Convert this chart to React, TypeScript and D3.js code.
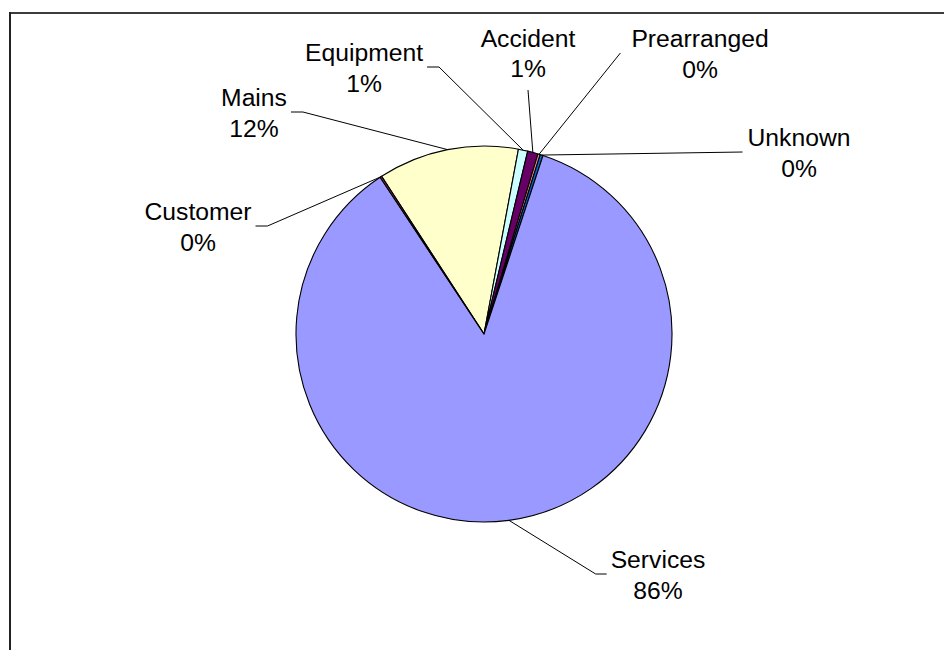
import React, { useEffect, useRef } from "react";
import * as d3 from "d3";

// ---- data (clockwise from the first slice) ----
const categories = ["Mains", "Equipment", "Accident", "Prearranged", "Unknown", "Services", "Customer"];
const values = [12.1, 0.8, 0.9, 0.2, 0.25, 85.6, 0.15];
const colors = ["#FFFFCC", "#CCFFFF", "#660066", "#FF8080", "#0066CC", "#9999FF", "#993366"];

// ---- label layout (label centre x, first-line baseline, how the leader attaches) ----
const labelLayout = [
  { x: 254, y: 106, side: "right" },
  { x: 364, y: 61, side: "right" },
  { x: 528, y: 46.5, side: "bottom" },
  { x: 700, y: 47, side: "leftFar" },
  { x: 799, y: 146, side: "leftDirect" },
  { x: 658, y: 568, side: "left" },
  { x: 198, y: 220, side: "right" },
];

const W = 944;
const H = 650;
const CX = 484;
const CY = 334;
const R = 188;
const START_DEG = -33;
const FONT = "'Liberation Sans', Arial, Helvetica, sans-serif";
const FONT_SIZE = 24.7;
const LINE_GAP = 30.5;

export default function App() {
  const ref = useRef<SVGSVGElement | null>(null);

  useEffect(() => {
    const svg = d3.select(ref.current);
    svg.selectAll("*").remove();

    // frame
    svg.append("line").attr("x1", 9).attr("x2", W).attr("y1", 13).attr("y2", 13)
      .attr("stroke", "#3c3c3c").attr("stroke-width", 2);
    svg.append("line").attr("x1", 10).attr("x2", 10).attr("y1", 12).attr("y2", H)
      .attr("stroke", "#222").attr("stroke-width", 2);

    const total = d3.sum(values);
    const start = (START_DEG * Math.PI) / 180;
    const pie = d3.pie<number>().sort(null).value((d) => d)
      .startAngle(start).endAngle(start + 2 * Math.PI);
    const arcs = pie(values);
    const arc = d3.arc<d3.PieArcDatum<number>>().innerRadius(0).outerRadius(R);

    const g = svg.append("g").attr("transform", `translate(${CX},${CY})`);
    g.selectAll("path").data(arcs).enter().append("path")
      .attr("d", arc as any)
      .attr("fill", (_, i) => colors[i])
      .attr("stroke", "#000")
      .attr("stroke-width", 1.1)
      .attr("stroke-linejoin", "round");

    // labels
    const lg = svg.append("g").attr("font-family", FONT).attr("font-size", FONT_SIZE).attr("fill", "#000");
    arcs.forEach((a, i) => {
      const lay = labelLayout[i];
      const pct = Math.round((values[i] / total) * 100) + "%";
      const t1 = lg.append("text").attr("x", lay.x).attr("y", lay.y).attr("text-anchor", "middle").text(categories[i]);
      lg.append("text").attr("x", lay.x).attr("y", lay.y + LINE_GAP).attr("text-anchor", "middle").text(pct);
      const w = (t1.node() as SVGTextElement).getComputedTextLength();

      const mid = (a.startAngle + a.endAngle) / 2;
      const rim: [number, number] = [CX + R * Math.sin(mid), CY - R * Math.cos(mid)];
      const ay = lay.y + 6;
      let pts: [number, number][] = [];
      if (lay.side === "right") {
        const ex = lay.x + w / 2 + 4;
        pts = [[ex, ay], [ex + 12, ay], rim];
      } else if (lay.side === "left") {
        const ex = lay.x - w / 2 - 4;
        pts = [[ex, ay], [ex - 11, ay], rim];
      } else if (lay.side === "leftDirect") {
        const ex = lay.x - w / 2 - 5;
        pts = [[ex, ay], rim];
      } else if (lay.side === "leftFar") {
        const ex = lay.x - w / 2 - 11;
        pts = [[ex, ay], rim];
      } else {
        pts = [[lay.x, lay.y + LINE_GAP + 13], rim];
      }
      svg.append("path")
        .attr("d", d3.line()(pts) as string)
        .attr("fill", "none")
        .attr("stroke", "#000")
        .attr("stroke-width", 1);
    });
  }, []);

  return (
    <svg
      ref={ref}
      width={W}
      height={H}
      style={{ position: "absolute", left: 0, top: 0, background: "#fff" }}
    />
  );
}
